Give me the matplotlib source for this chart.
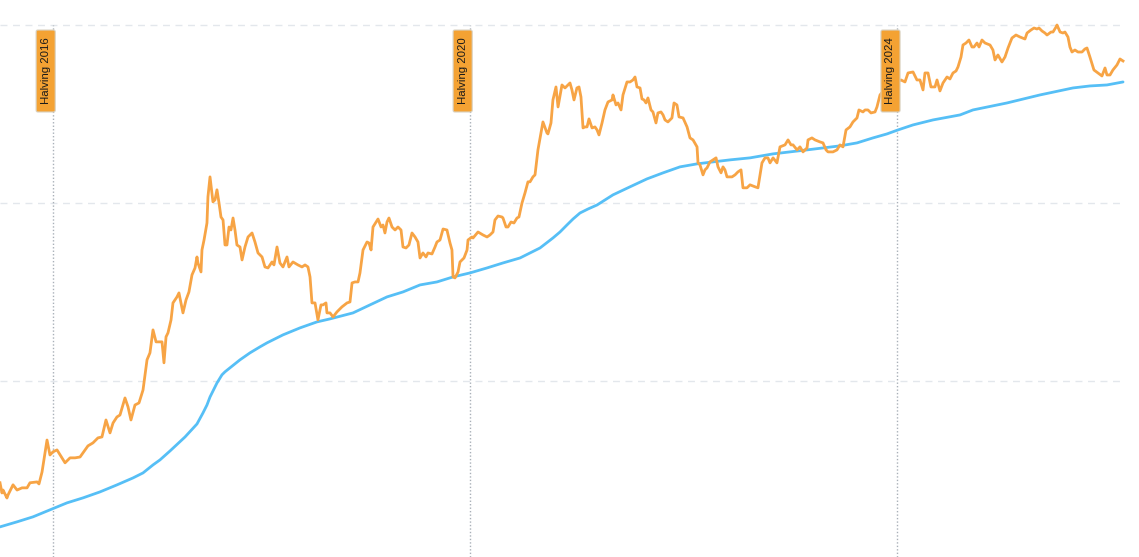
"""
Bitcoin price vs 200-week moving average, log scale, with halving markers
"""

import matplotlib
matplotlib.use('Agg')
import matplotlib.pyplot as plt

# Price (weekly close, USD) - time in decimal years
price_years = [
    2016.036, 2016.054, 2016.064, 2016.100, 2016.110, 2016.156, 2016.193, 2016.239, 2016.285, 2016.312,
    2016.377, 2016.395, 2016.423, 2016.450, 2016.469, 2016.496, 2016.524, 2016.561, 2016.607, 2016.635,
    2016.681, 2016.727, 2016.773, 2016.819, 2016.846, 2016.892, 2016.938, 2016.975, 2017.012, 2017.049,
    2017.077, 2017.113, 2017.141, 2017.187, 2017.215, 2017.242, 2017.279, 2017.316, 2017.353, 2017.390,
    2017.417, 2017.445, 2017.473, 2017.500, 2017.528, 2017.546, 2017.565, 2017.583, 2017.611, 2017.629,
    2017.666, 2017.684, 2017.721, 2017.749, 2017.776, 2017.804, 2017.832, 2017.850, 2017.859, 2017.887,
    2017.896, 2017.915, 2017.942, 2017.951, 2017.970, 2017.997, 2018.016, 2018.034, 2018.053, 2018.071,
    2018.090, 2018.108, 2018.126, 2018.145, 2018.163, 2018.182, 2018.200, 2018.218, 2018.246, 2018.265,
    2018.292, 2018.320, 2018.357, 2018.384, 2018.412, 2018.449, 2018.476, 2018.504, 2018.541, 2018.559,
    2018.587, 2018.614, 2018.642, 2018.679, 2018.697, 2018.734, 2018.780, 2018.817, 2018.845, 2018.872,
    2018.891, 2018.909, 2018.937, 2018.964, 2018.992, 2019.010, 2019.038, 2019.047, 2019.075, 2019.103,
    2019.139, 2019.185, 2019.232, 2019.259, 2019.278, 2019.305, 2019.333, 2019.351, 2019.379, 2019.416,
    2019.434, 2019.453, 2019.471, 2019.499, 2019.517, 2019.545, 2019.563, 2019.581, 2019.600, 2019.618,
    2019.646, 2019.674, 2019.701, 2019.729, 2019.747, 2019.775, 2019.802, 2019.830, 2019.858, 2019.885,
    2019.904, 2019.931, 2019.959, 2019.977, 2020.014, 2020.042, 2020.060, 2020.088, 2020.116, 2020.152,
    2020.180, 2020.198, 2020.208, 2020.226, 2020.254, 2020.272, 2020.309, 2020.337, 2020.346, 2020.383,
    2020.392, 2020.438, 2020.484, 2020.521, 2020.548, 2020.576, 2020.594, 2020.622, 2020.659, 2020.668,
    2020.696, 2020.714, 2020.742, 2020.769, 2020.797, 2020.815, 2020.843, 2020.871, 2020.898, 2020.917,
    2020.944, 2020.963, 2020.990, 2021.036, 2021.073, 2021.082, 2021.110, 2021.128, 2021.156, 2021.175,
    2021.211, 2021.239, 2021.257, 2021.285, 2021.303, 2021.322, 2021.349, 2021.368, 2021.386, 2021.405,
    2021.423, 2021.442, 2021.460, 2021.488, 2021.515, 2021.534, 2021.552, 2021.580, 2021.607, 2021.635,
    2021.672, 2021.681, 2021.709, 2021.727, 2021.755, 2021.773, 2021.810, 2021.838, 2021.865, 2021.884,
    2021.902, 2021.930, 2021.948, 2021.967, 2021.985, 2022.003, 2022.031, 2022.049, 2022.077, 2022.095,
    2022.123, 2022.142, 2022.160, 2022.187, 2022.224, 2022.243, 2022.270, 2022.289, 2022.326, 2022.363,
    2022.390, 2022.418, 2022.455, 2022.464, 2022.482, 2022.510, 2022.528, 2022.547, 2022.574, 2022.602,
    2022.630, 2022.648, 2022.676, 2022.694, 2022.712, 2022.731, 2022.777, 2022.805, 2022.832, 2022.860,
    2022.878, 2022.915, 2022.943, 2022.989, 2023.016, 2023.053, 2023.081, 2023.108, 2023.127, 2023.155,
    2023.191, 2023.219, 2023.265, 2023.293, 2023.320, 2023.339, 2023.376, 2023.403, 2023.431, 2023.468,
    2023.477, 2023.513, 2023.541, 2023.587, 2023.615, 2023.643, 2023.661, 2023.707, 2023.744, 2023.771,
    2023.799, 2023.827, 2023.863, 2023.891, 2023.928, 2023.946, 2023.983, 2024.002, 2024.029, 2024.057,
    2024.094, 2024.112, 2024.140, 2024.177, 2024.232, 2024.296, 2024.333, 2024.370, 2024.398, 2024.444,
    2024.480, 2024.508, 2024.536, 2024.554, 2024.582, 2024.609, 2024.646, 2024.665, 2024.692, 2024.720,
    2024.757, 2024.784, 2024.812, 2024.840, 2024.858, 2024.886, 2024.904, 2024.932, 2024.959, 2024.987,
    2025.005, 2025.033, 2025.052, 2025.079, 2025.107, 2025.153, 2025.180, 2025.199, 2025.226, 2025.263,
    2025.291, 2025.319, 2025.355, 2025.392, 2025.429, 2025.475, 2025.494, 2025.530, 2025.558, 2025.586,
    2025.604, 2025.632, 2025.659, 2025.678, 2025.715, 2025.733, 2025.761, 2025.770, 2025.798, 2025.825,
    2025.843, 2025.871, 2025.889, 2025.908, 2025.935, 2025.963, 2026.000, 2026.027, 2026.046, 2026.073,
    2026.101, 2026.110, 2026.147, 2026.184, 2026.212, 2026.230, 2026.258, 2026.285, 2026.322, 2026.350,
    2026.378,
]
price_values = [
    268, 235, 244, 220, 229, 261, 244, 251, 251, 268,
    271, 264, 308, 394, 466, 384, 400, 410, 370, 347,
    370, 370, 374, 410, 432, 449, 479, 485, 604, 511,
    581, 628, 644, 803, 715, 604, 733, 753, 890, 1315,
    1439, 1937, 1659, 1659, 1659, 1265, 1770, 1864, 2204, 2746,
    2968, 3125, 2413, 2854, 3165, 3944, 4317, 4976, 4605, 4099,
    5447, 6199, 7722, 10830, 14020, 10150, 10420, 11860, 10000, 8344,
    8027, 5811, 5811, 7333, 7053, 8237, 7053, 5811, 5662, 4787,
    5662, 6444, 6786, 6040, 5240, 4976, 4373, 4317, 4664, 4488,
    5662, 4605, 4373, 4976, 4373, 4664, 4488, 4373, 4488, 4373,
    3843, 2746, 2746, 2204, 2676, 2676, 2746, 2413, 2413, 2291,
    2444, 2608, 2746, 2781, 3556, 3602, 3602, 4047, 5447, 6040,
    5963, 5447, 7333, 7822, 8131, 7333, 7525, 6786, 7822, 8237,
    7333, 7053, 7333, 7053, 5662, 5590, 5811, 6786, 6444, 6040,
    4912, 5240, 4976, 5240, 5173, 5662, 6040, 6199, 7145, 7053,
    5963, 5447, 3843, 3793, 4099, 4664, 4912, 5447, 6199, 6444,
    6361, 6873, 6613, 6444, 6613, 6873, 8027, 8452, 8344, 8237,
    7333, 7333, 7822, 7722, 8237, 8344, 10000, 11410, 13150, 13150,
    14020, 14390, 19880, 28540, 24760, 24440, 28170, 37930, 44880, 34650,
    46050, 44300, 45460, 47250, 43170, 37930, 44300, 44880, 39440, 26410,
    26760, 26760, 29680, 26410, 26760, 25740, 24130, 28170, 33330, 36960,
    37930, 40470, 35560, 36480, 33330, 40470, 47870, 47870, 49120, 51060,
    44880, 44300, 38430, 37930, 36480, 38930, 33330, 32480, 28170, 32060,
    32480, 31250, 29290, 28540, 30060, 36480, 35560, 30450, 30060, 26760,
    23210, 22620, 20670, 16800, 16380, 14390, 15350, 15760, 17020, 17470,
    17930, 15960, 14770, 15960, 15350, 14020, 14020, 14390, 14960, 15350,
    12170, 12170, 12650, 12330, 12170, 16800, 17930, 17930, 16800, 17930,
    16800, 20670, 21210, 22620, 21210, 21210, 19880, 20670, 19370, 20400,
    22620, 23210, 22620, 22040, 21760, 19880, 19370, 19370, 19880, 21210,
    20670, 25740, 26760, 28540, 30060, 33330, 32480, 33330, 33330, 32060,
    32480, 34650, 40470, 43170, 45460, 47870, 49120, 47870, 53770, 54470,
    49120, 49120, 43170, 53770, 53770, 44880, 44880, 49120, 42620, 47250,
    51060, 49760, 53770, 55180, 58110, 66130, 77220, 79230, 82370, 75250,
    75250, 79230, 75250, 82370, 79230, 77220, 72380, 63610, 67860, 61990,
    66130, 74280, 84520, 87870, 85630, 83440, 90170, 93740, 96190, 94960,
    96190, 92540, 90170, 87870, 91350, 91350, 97450, 100000, 91350, 90170,
    91350, 85630, 75250, 70530, 72380, 70530, 70530, 73330, 74280, 66130,
    58110, 55900, 53770, 51730, 57360, 52400, 52400, 55900, 59630, 64440,
    62790,
]

# 200-week moving average
ma_years = [
    2016.036, 2016.193, 2016.340, 2016.496, 2016.653, 2016.800, 2016.957, 2017.113, 2017.261, 2017.353,
    2017.445, 2017.509, 2017.602, 2017.740, 2017.850, 2017.905, 2017.942, 2017.970, 2018.034, 2018.080,
    2018.108, 2018.154, 2018.246, 2018.338, 2018.430, 2018.495, 2018.642, 2018.799, 2018.955, 2019.075,
    2019.287, 2019.443, 2019.600, 2019.747, 2019.904, 2020.060, 2020.208, 2020.364, 2020.521, 2020.668,
    2020.825, 2020.917, 2021.009, 2021.128, 2021.193, 2021.257, 2021.313, 2021.377, 2021.451, 2021.534,
    2021.681, 2021.838, 2021.994, 2022.142, 2022.298, 2022.455, 2022.602, 2022.759, 2022.943, 2023.155,
    2023.468, 2023.771, 2023.928, 2024.075, 2024.204, 2024.306, 2024.444, 2024.628, 2024.877, 2024.996,
    2025.309, 2025.613, 2025.917, 2026.073, 2026.230, 2026.378,
]
ma_values = [
    151.5, 161.7, 172.5, 188.8, 206.7, 220.4, 238.2, 260.8, 285.4, 304.5,
    337.7, 360.2, 404.7, 484.9, 573.6, 661.3, 733.3, 813.1, 974.5, 1083,
    1126, 1186, 1315, 1439, 1555, 1638, 1816, 1988, 2148, 2233,
    2413, 2676, 2968, 3165, 3465, 3602, 3843, 4047, 4317, 4605,
    4912, 5240, 5590, 6361, 6873, 7525, 8131, 8787, 9254, 9745,
    11110, 12330, 13660, 14770, 15960, 16590, 17020, 17470, 17930, 18880,
    19880, 20940, 21760, 23210, 24440, 25740, 27460, 29290, 31250, 33330,
    36480, 40470, 44300, 45460, 46050, 47870,
]

halving_years = [2016.521, 2020.361, 2024.301]
halving_labels = ["Halving 2016", "Halving 2020", "Halving 2024"]
grid_levels = [1e3, 1e4, 1e5]

ORANGE = '#F7A445'
BLUE = '#56BFF6'
LABEL_BG = '#F4A233'

fig = plt.figure(figsize=(11.39, 5.57), dpi=100)
ax = fig.add_axes([0, 0, 1, 1])
ax.set_yscale('log')
ax.set_xlim(2016.036, 2026.525)
ax.set_ylim(102.6, 138200)
ax.axis('off')

# dashed horizontal grid
for lvl in grid_levels:
    ax.axhline(lvl, xmin=0, xmax=0.985, color='#e3e7ec', linewidth=1.0,
               linestyle=(0, (5, 4)), zorder=1)

# halving markers
ax.vlines(halving_years, 102.6, grid_levels[-1], colors='#a9b0b8',
          linewidth=1.0, linestyles=(0, (1, 1.5)), zorder=1)

ax.plot(ma_years, ma_values, color=BLUE, linewidth=2.0, zorder=3,
        solid_capstyle='round')
ax.plot(price_years, price_values, color=ORANGE, linewidth=2.0, zorder=4,
        solid_joinstyle='round')

for yr, lab in zip(halving_years, halving_labels):
    ax.annotate(' ' + lab + ' ', xy=(yr, grid_levels[-1]), xytext=(-7, -46),
                textcoords='offset pixels', ha='center', va='center',
                rotation=90, fontsize=8.2, family=['Liberation Sans', 'DejaVu Sans'],
                color='#1a1a1a', zorder=6,
                bbox=dict(boxstyle='round,pad=0.4,rounding_size=0.15',
                          facecolor=LABEL_BG, edgecolor='#d9d2c2', linewidth=0.8))

fig.savefig('out.png', dpi=100)
plt.close(fig)
